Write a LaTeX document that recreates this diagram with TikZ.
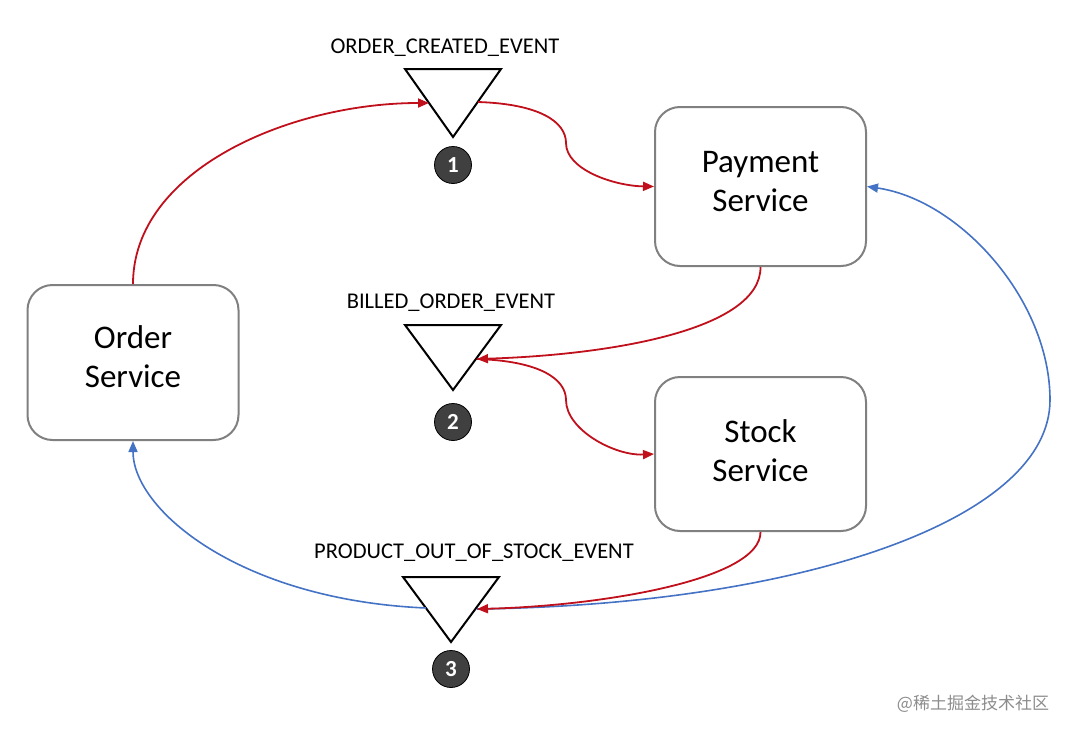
\documentclass[tikz,border=0pt]{standalone}
\usepackage{fontspec}
\setmainfont{Carlito}
\newfontfamily\cjk{Noto Sans CJK SC}
\usetikzlibrary{arrows.meta}
\definecolor{redc}{RGB}{192,16,28}
\definecolor{bluec}{RGB}{68,114,196}
\definecolor{boxgray}{RGB}{128,128,128}
\definecolor{dotc}{RGB}{64,64,64}
\tikzset{
  svcbox/.style={draw=boxgray, line width=2pt, rounded corners=25pt, fill=white,
    minimum width=211pt, align=center, font=\fontsize{33}{39}\selectfont, inner sep=0pt},
  evlabel/.style={font=\fontsize{22.5}{23}\selectfont, inner sep=0pt},
  evtri/.style={draw=black, line width=2pt, line join=miter},
  numdot/.style={circle, fill=dotc, draw=black, line width=0.8pt, minimum size=37pt, inner sep=0pt,
    text=white, font=\fontsize{23}{24}\selectfont\bfseries},
  redarrow/.style={draw=redc, line width=1.8pt, -{Triangle[length=11pt,width=9pt]}},
  bluearrow/.style={draw=bluec, line width=1.6pt, -{Triangle[length=11pt,width=9pt]}},
}
\begin{document}
\begin{tikzpicture}[x=1pt,y=-1pt]
\useasboundingbox (0,0) rectangle (1074,736);
% boxes
\node[svcbox, minimum height=159pt] (pay) at (760.5,186.5) {\raisebox{10pt}{Payment}\\\raisebox{10pt}{Service}};
\node[svcbox, minimum height=155pt] (ord) at (133,362.5) {\raisebox{11pt}{Order}\\\raisebox{11pt}{Service}};
\node[svcbox, minimum height=154pt] (stk) at (760.5,454) {\raisebox{7pt}{Stock}\\\raisebox{7pt}{Service}};
% triangles
\draw[evtri] (405,69) -- (501,69) -- (453,137) -- cycle;
\draw[evtri] (405,325) -- (501,325) -- (453,390) -- cycle;
\draw[evtri] (403,577) -- (499,577) -- (451,642) -- cycle;
\coordinate (t1l) at (429,103);
\coordinate (t1r) at (478,102);
\coordinate (t2r) at (477,359);
\coordinate (t3l) at (426,608);
\coordinate (t3r) at (477,609);
% labels
\node[evlabel] (l1) at (445,48) {ORDER\_CREATED\_EVENT};
\node[evlabel] (l2) at (451,303) {BILLED\_ORDER\_EVENT};
\node[evlabel] (l3) at (474,553) {PRODUCT\_OUT\_OF\_STOCK\_EVENT};
% numbers
\node[numdot] (n1) at (453,165) {1};
\node[numdot] (n2) at (453,422) {2};
\node[numdot] (n3) at (451,669) {3};
% red connectors
\draw[redarrow] (ord.north) .. controls (133,170) and (290,103) .. (t1l);
\draw[redarrow] (t1r) .. controls (540,104) and (566,122) .. (566,143)
  .. controls (566,170) and (615,186) .. (pay.west);
\draw[redarrow] (pay.south) .. controls (761,330) and (610,355) .. (t2r);
\draw[redarrow] (t2r) .. controls (540,361) and (566,379) .. (566,400)
  .. controls (566,430) and (615,456) .. (stk.west);
% blue connectors
\draw[bluearrow] (t3l) .. controls (240,600) and (133,510) .. (ord.south);
\draw[bluearrow] (t3r) .. controls (800,605) and (1050,520) .. (1050,400)
  .. controls (1050,300) and (960,200) .. (pay.east);
\draw[redarrow] (stk.south) .. controls (761,580) and (600,606) .. (t3r);
% watermark
\node[font=\cjk\fontsize{17}{18}\selectfont, text=black!45, inner sep=0pt] (wm) at (973,704) {@稀土掘金技术社区};
\end{tikzpicture}
\end{document}
